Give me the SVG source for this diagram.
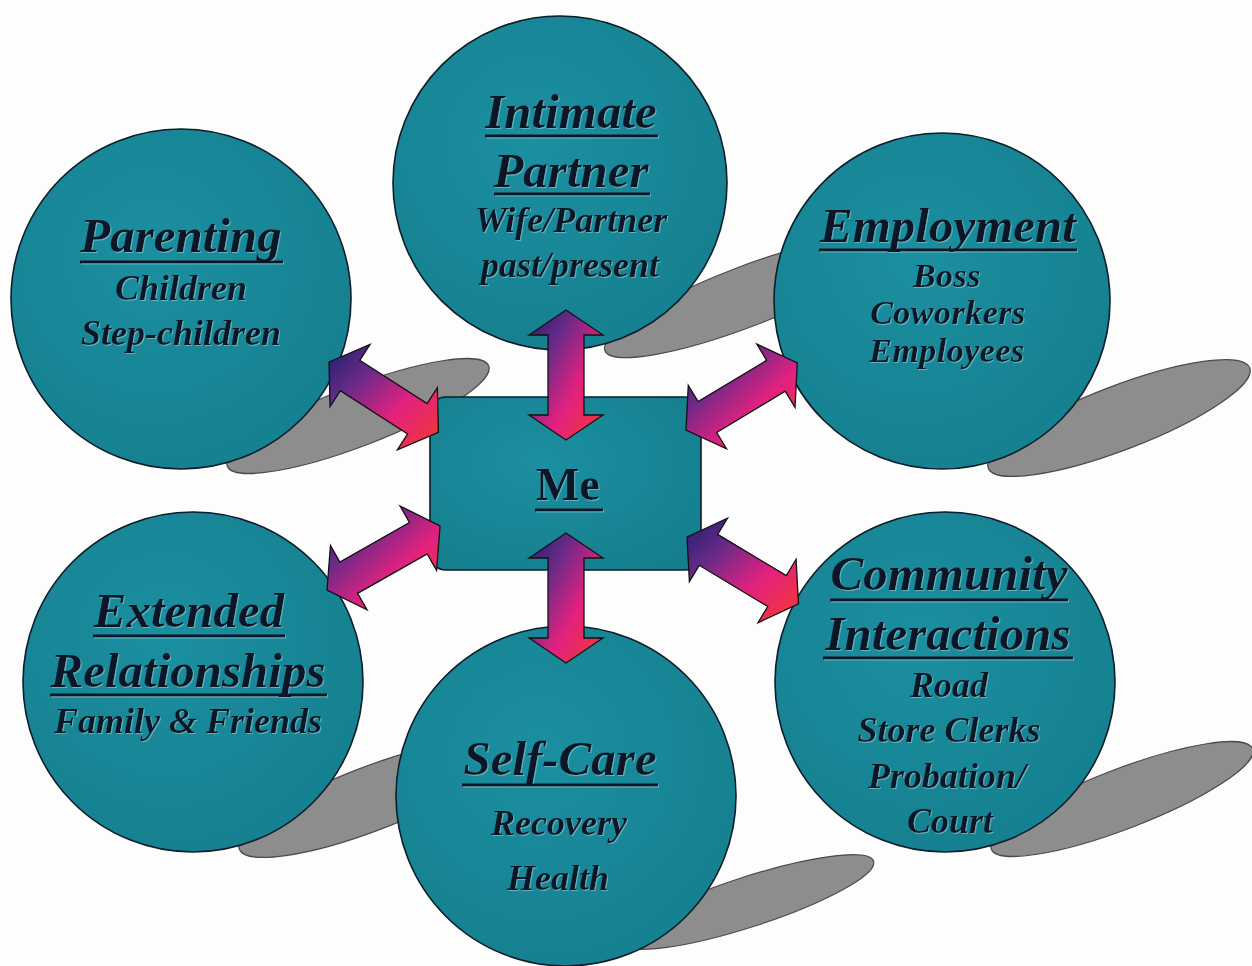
<svg xmlns="http://www.w3.org/2000/svg" width="1252" height="966" viewBox="0 0 1252 966">
<defs>
  <linearGradient id="arrowGrad" x1="0" y1="0" x2="1" y2="1">
    <stop offset="0" stop-color="#1c1f6c"/>
    <stop offset="0.3" stop-color="#6a2a88"/>
    <stop offset="0.62" stop-color="#e2217f"/>
    <stop offset="1" stop-color="#f5392e"/>
  </linearGradient>
  <radialGradient id="teal" cx="0.42" cy="0.38" r="0.7">
    <stop offset="0" stop-color="#1b8fa0"/>
    <stop offset="1" stop-color="#157f8e"/>
  </radialGradient>
  <filter id="emb" x="-5%" y="-10%" width="110%" height="130%">
    <feOffset in="SourceAlpha" dx="1.2" dy="1.2" result="o"/>
    <feFlood flood-color="#8fd0d6" flood-opacity="0.6"/>
    <feComposite in2="o" operator="in" result="hl"/>
    <feMerge><feMergeNode in="hl"/><feMergeNode in="SourceGraphic"/></feMerge>
  </filter>
</defs>
<style>
  .ball{fill:url(#teal);stroke:#0b1c2a;stroke-width:1.6}
  .shadow{fill:#8d8d8d;stroke:#4a4a4a;stroke-width:1.2}
  .t{font-family:"Liberation Serif","Times New Roman",serif;font-style:italic;font-weight:bold;fill:#0e1828;text-anchor:middle}
  .h{font-size:49px}
  .s{font-size:36px}
  .s2{font-size:34px;letter-spacing:0.5px}
  .ul{stroke:#0e1828;stroke-width:3}
  .arrow{fill:url(#arrowGrad);stroke:#111;stroke-width:1.3;stroke-linejoin:miter}
</style>
<rect width="1252" height="966" fill="#fdfdfd"/>

<g id="parenting">
  <ellipse class="shadow" cx="358" cy="416" rx="140" ry="30" transform="rotate(-21 358 416)"/>
  <circle class="ball" cx="181" cy="299" r="170"/>
  <g filter="url(#emb)">
    <text class="t h" x="181" y="252">Parenting</text>
    <line class="ul" x1="80" y1="262" x2="283" y2="262"/>
    <text class="t s" x="181" y="300">Children</text>
    <text class="t s" x="181" y="345">Step-children</text>
  </g>
</g>

<g id="intimate-partner">
  <ellipse class="shadow" cx="745" cy="297" rx="150" ry="30" transform="rotate(-21 745 297)"/>
  <circle class="ball" cx="560" cy="183" r="167"/>
  <g filter="url(#emb)">
    <text class="t h" x="571" y="128">Intimate</text>
    <line class="ul" x1="485" y1="136" x2="658" y2="136"/>
    <text class="t h" x="571" y="187">Partner</text>
    <line class="ul" x1="494" y1="194" x2="650" y2="194"/>
    <text class="t s" x="571" y="232">Wife/Partner</text>
    <text class="t s" x="570" y="277">past/present</text>
  </g>
</g>

<g id="employment">
  <ellipse class="shadow" cx="1119" cy="418" rx="140" ry="32" transform="rotate(-21 1119 418)"/>
  <circle class="ball" cx="942" cy="301" r="168"/>
  <g filter="url(#emb)">
    <text class="t h" x="948" y="242">Employment</text>
    <line class="ul" x1="819" y1="250" x2="1077" y2="250"/>
    <text class="t s2" x="947" y="287">Boss</text>
    <text class="t s2" x="948" y="324">Coworkers</text>
    <text class="t s2" x="947" y="362">Employees</text>
  </g>
</g>

<g id="extended-relationships">
  <ellipse class="shadow" cx="370" cy="799" rx="140" ry="32" transform="rotate(-21 370 799)"/>
  <circle class="ball" cx="193" cy="682" r="170"/>
  <g filter="url(#emb)">
    <text class="t h" x="189" y="627">Extended</text>
    <line class="ul" x1="93" y1="636" x2="285" y2="636"/>
    <text class="t h" x="188" y="687">Relationships</text>
    <line class="ul" x1="50" y1="695" x2="327" y2="695"/>
    <text class="t s" x="188" y="733">Family &amp; Friends</text>
  </g>
</g>

<g id="self-care">
  <ellipse class="shadow" cx="748" cy="902" rx="132" ry="25" transform="rotate(-18 748 902)"/>
  <circle class="ball" cx="566" cy="796" r="170"/>
  <g filter="url(#emb)">
    <text class="t h" x="560" y="775">Self-Care</text>
    <line class="ul" x1="462" y1="785" x2="658" y2="785"/>
    <text class="t s" x="559" y="835">Recovery</text>
    <text class="t s" x="558" y="890">Health</text>
  </g>
</g>

<g id="community-interactions">
  <ellipse class="shadow" cx="1122" cy="799" rx="140" ry="30" transform="rotate(-21 1122 799)"/>
  <circle class="ball" cx="945" cy="682" r="170"/>
  <g filter="url(#emb)">
    <text class="t h" x="949" y="590">Community</text>
    <line class="ul" x1="830" y1="600" x2="1068" y2="600"/>
    <text class="t h" x="948" y="650">Interactions</text>
    <line class="ul" x1="823" y1="658" x2="1073" y2="658"/>
    <text class="t s" x="949" y="697">Road</text>
    <text class="t s" x="949" y="742">Store Clerks</text>
    <text class="t s" x="947" y="788">Probation/</text>
    <text class="t s" x="950" y="833">Court</text>
  </g>
</g>

<g id="me">
  <rect class="ball" x="430" y="397" width="271" height="173" rx="16"/>
  <g filter="url(#emb)">
    <text x="568" y="500" font-family="'Liberation Serif','Times New Roman',serif" font-weight="bold" font-size="46" fill="#0e1828" text-anchor="middle">Me</text>
    <line class="ul" x1="535" y1="510" x2="603" y2="510"/>
  </g>
</g>

<g id="connectors">
  <polygon class="arrow" points="566,310 603,335 584,335 584,415 603,415 566,440 529,415 548,415 548,335 529,335"/>
  <polygon class="arrow" points="566,533 603,558 584,558 584,638 603,638 566,663 529,638 548,638 548,558 529,558"/>
  <polygon class="arrow" points="329,362 370.04,344.37 359.77,360.36 427.11,403.6 437.38,387.61 438.42,432.27 397.38,449.89 407.65,433.9 340.31,390.66 330.04,406.65"/>
  <polygon class="arrow" points="686,430 688.28,385.4 698.1,401.67 766.6,360.33 756.78,344.06 797.3,362.82 795.02,407.42 785.2,391.15 716.7,432.49 726.52,448.76"/>
  <polygon class="arrow" points="687,537 727.48,518.13 717.7,534.42 786.3,575.58 796.08,559.29 798.48,603.89 758,622.75 767.78,606.46 699.18,565.3 689.4,581.59"/>
  <polygon class="arrow" points="327,590 330.47,545.48 339.85,562.01 409.43,522.51 400.05,505.98 440.06,525.82 436.59,570.34 427.21,553.81 357.63,593.31 367.01,609.84"/>
</g>
</svg>
